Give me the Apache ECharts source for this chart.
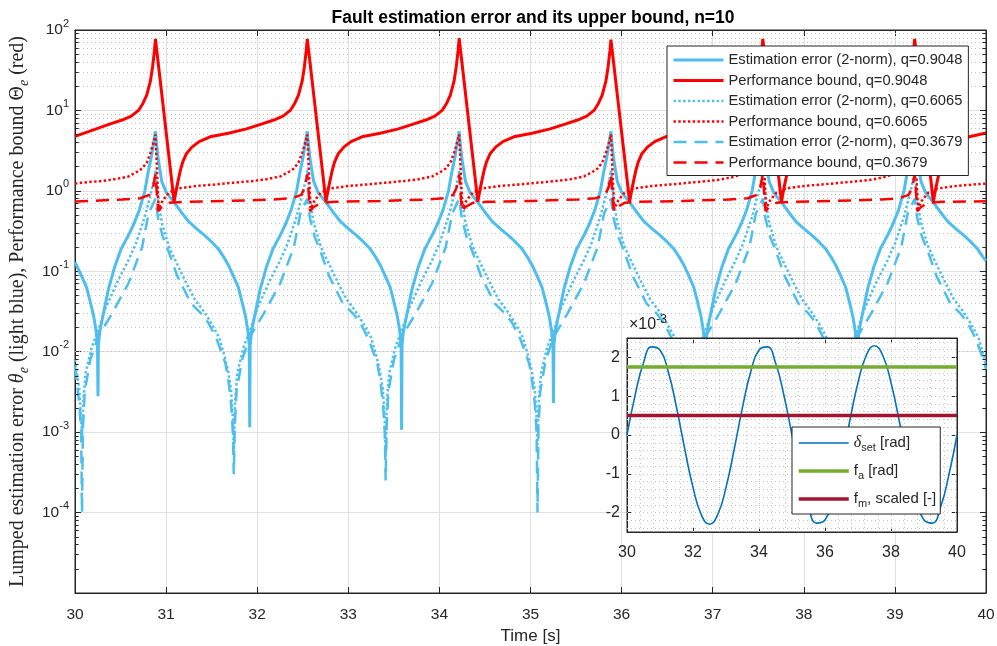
<!DOCTYPE html>
<html>
<head>
<meta charset="utf-8">
<script src="https://cdn.jsdelivr.net/npm/echarts@6/dist/echarts.min.js"></script>
<style>
  html, body { margin: 0; padding: 0; background: #fff; }
  #chart { width: 997px; height: 646px; }
</style>
</head>
<body>
<div id="chart"></div>
<script>
// ---- Main plot: time [s] vs. lumped estimation error / performance bound ----

// Performance bound, q=0.9048 (solid red)
const boundQ09 = [
  [30, 4.75], [30.217, 5.8], [30.387, 6.8], [30.517, 7.6], [30.617, 8.5], [30.697, 10], [30.747, 12.3], [30.787, 15.5], [30.827, 22.9], [30.852, 35], [30.872, 55],
  [30.883, 77.6], [31.088, 0.733], [31.098, 0.85], [31.113, 1.05], [31.133, 1.35], [31.158, 1.82], [31.183, 2.3], [31.223, 2.9], [31.283, 3.5], [31.363, 4.1], [31.483, 4.7], [31.683, 5.2], [31.883, 5.9], [32.053, 6.8], [32.183, 7.6], [32.283, 8.5], [32.363, 10], [32.413, 12.3], [32.453, 15.5], [32.493, 22.9], [32.518, 35], [32.538, 55],
  [32.55, 77.6], [32.755, 0.733], [32.765, 0.85], [32.78, 1.05], [32.8, 1.35], [32.825, 1.82], [32.85, 2.3], [32.89, 2.9], [32.95, 3.5], [33.03, 4.1], [33.15, 4.7], [33.35, 5.2], [33.55, 5.9], [33.72, 6.8], [33.85, 7.6], [33.95, 8.5], [34.03, 10], [34.08, 12.3], [34.12, 15.5], [34.16, 22.9], [34.185, 35], [34.205, 55],
  [34.217, 79], [34.422, 0.733], [34.432, 0.85], [34.447, 1.05], [34.467, 1.35], [34.492, 1.82], [34.517, 2.3], [34.557, 2.9], [34.617, 3.5], [34.697, 4.1], [34.817, 4.7], [35.017, 5.2], [35.217, 5.9], [35.387, 6.8], [35.517, 7.6], [35.617, 8.5], [35.697, 10], [35.747, 12.3], [35.787, 15.5], [35.827, 22.9], [35.852, 35], [35.872, 55],
  [35.883, 76], [36.088, 0.733], [36.098, 0.85], [36.113, 1.05], [36.133, 1.35], [36.158, 1.82], [36.183, 2.3], [36.223, 2.9], [36.283, 3.5], [36.363, 4.1], [36.483, 4.7], [36.683, 5.2], [36.883, 5.9], [37.053, 6.8], [37.183, 7.6], [37.283, 8.5], [37.363, 10], [37.413, 12.3], [37.453, 15.5], [37.493, 22.9], [37.518, 35], [37.538, 55],
  [37.55, 77.6], [37.755, 0.733], [37.765, 0.85], [37.78, 1.05], [37.8, 1.35], [37.825, 1.82], [37.85, 2.3], [37.89, 2.9], [37.95, 3.5], [38.03, 4.1], [38.15, 4.7], [38.35, 5.2], [38.55, 5.9], [38.72, 6.8], [38.85, 7.6], [38.95, 8.5], [39.03, 10], [39.08, 12.3], [39.12, 15.5], [39.16, 22.9], [39.185, 35], [39.205, 55],
  [39.217, 77.6], [39.422, 0.733], [39.432, 0.85], [39.447, 1.05], [39.467, 1.35], [39.492, 1.82], [39.517, 2.3], [39.557, 2.9], [39.617, 3.5], [39.697, 4.1], [39.817, 4.7], [40, 5.25]
];

// Estimation error (2-norm), q=0.9048 (solid light blue)
const errorQ09 = [
  [30, 0.13], [30.077, 0.085], [30.127, 0.063], [30.167, 0.042], [30.207, 0.027], [30.232, 0.018], [30.247, 0.012], [30.252, 0.0028], [30.257, 0.012], [30.272, 0.018], [30.307, 0.028], [30.367, 0.06], [30.437, 0.115], [30.507, 0.19], [30.587, 0.28], [30.647, 0.39], [30.707, 0.58], [30.767, 1.0], [30.807, 1.8], [30.837, 2.6], [30.862, 3.9],
  [30.883, 5.5], [30.898, 3.6], [30.913, 2.5], [30.953, 1.3], [31.003, 0.95], [31.088, 0.72], [31.163, 0.55], [31.243, 0.42], [31.333, 0.34], [31.423, 0.28], [31.503, 0.23], [31.573, 0.19], [31.633, 0.15], [31.683, 0.12], [31.743, 0.085], [31.793, 0.063], [31.833, 0.042], [31.873, 0.027], [31.898, 0.018], [31.913, 0.012], [31.918, 0.00115], [31.923, 0.012], [31.938, 0.018], [31.973, 0.028], [32.033, 0.06], [32.103, 0.115], [32.173, 0.19], [32.253, 0.28], [32.313, 0.39], [32.373, 0.58], [32.433, 1.0], [32.473, 1.8], [32.503, 2.6], [32.528, 3.9],
  [32.55, 5.5], [32.565, 3.6], [32.58, 2.5], [32.62, 1.3], [32.67, 0.95], [32.755, 0.72], [32.83, 0.55], [32.91, 0.42], [33.0, 0.34], [33.09, 0.28], [33.17, 0.23], [33.24, 0.19], [33.3, 0.15], [33.35, 0.12], [33.41, 0.085], [33.46, 0.063], [33.5, 0.042], [33.54, 0.027], [33.565, 0.018], [33.58, 0.012], [33.585, 0.00107], [33.59, 0.012], [33.605, 0.018], [33.64, 0.028], [33.7, 0.06], [33.77, 0.115], [33.84, 0.19], [33.92, 0.28], [33.98, 0.39], [34.04, 0.58], [34.1, 1.0], [34.14, 1.8], [34.17, 2.6], [34.195, 3.9],
  [34.217, 5.5], [34.232, 3.6], [34.247, 2.5], [34.287, 1.3], [34.337, 0.95], [34.422, 0.72], [34.497, 0.55], [34.577, 0.42], [34.667, 0.34], [34.757, 0.28], [34.837, 0.23], [34.907, 0.19], [34.967, 0.15], [35.017, 0.12], [35.077, 0.085], [35.127, 0.063], [35.167, 0.042], [35.207, 0.027], [35.232, 0.018], [35.247, 0.012], [35.252, 0.0023], [35.257, 0.012], [35.272, 0.018], [35.307, 0.028], [35.367, 0.06], [35.437, 0.115], [35.507, 0.19], [35.587, 0.28], [35.647, 0.39], [35.707, 0.58], [35.767, 1.0], [35.807, 1.8], [35.837, 2.6], [35.862, 3.9],
  [35.883, 5.5], [35.898, 3.6], [35.913, 2.5], [35.953, 1.3], [36.003, 0.95], [36.088, 0.72], [36.163, 0.55], [36.243, 0.42], [36.333, 0.34], [36.423, 0.28], [36.503, 0.23], [36.573, 0.19], [36.633, 0.15], [36.683, 0.12], [36.743, 0.085], [36.793, 0.063], [36.833, 0.042], [36.873, 0.027], [36.898, 0.018], [36.913, 0.012], [36.918, 0.002], [36.923, 0.012], [36.938, 0.018], [36.973, 0.028], [37.033, 0.06], [37.103, 0.115], [37.173, 0.19], [37.253, 0.28], [37.313, 0.39], [37.373, 0.58], [37.433, 1.0], [37.473, 1.8], [37.503, 2.6], [37.528, 3.9],
  [37.55, 5.5], [37.565, 3.6], [37.58, 2.5], [37.62, 1.3], [37.67, 0.95], [37.755, 0.72], [37.83, 0.55], [37.91, 0.42], [38.0, 0.34], [38.09, 0.28], [38.17, 0.23], [38.24, 0.19], [38.3, 0.15], [38.35, 0.12], [38.41, 0.085], [38.46, 0.063], [38.5, 0.042], [38.54, 0.027], [38.565, 0.018], [38.58, 0.012], [38.585, 0.0015], [38.59, 0.012], [38.605, 0.018], [38.64, 0.028], [38.7, 0.06], [38.77, 0.115], [38.84, 0.19], [38.92, 0.28], [38.98, 0.39], [39.04, 0.58], [39.1, 1.0], [39.14, 1.8], [39.17, 2.6], [39.195, 3.9],
  [39.217, 5.5], [39.232, 3.6], [39.247, 2.5], [39.287, 1.3], [39.337, 0.95], [39.422, 0.72], [39.497, 0.55], [39.577, 0.42], [39.667, 0.34], [39.757, 0.28], [39.837, 0.23], [39.907, 0.19], [39.967, 0.15], [40, 0.135]
];

// Estimation error (2-norm), q=0.6065 (dotted light blue)
const errorQ06 = [
  [30, 0.008], [30.047, 0.0034], [30.067, 0.0015], [30.077, 0.0009], [30.092, 0.0025], [30.117, 0.0055], [30.157, 0.0085], [30.187, 0.0117], [30.257, 0.0186], [30.327, 0.033], [30.477, 0.079], [30.577, 0.13], [30.667, 0.22], [30.767, 0.48], [30.842, 1.02], [30.867, 1.4],
  [30.883, 1.8], [30.913, 0.75], [30.953, 0.4], [31.033, 0.2], [31.133, 0.115], [31.223, 0.071], [31.313, 0.045], [31.403, 0.033], [31.493, 0.023], [31.583, 0.015], [31.643, 0.0087], [31.683, 0.0055], [31.713, 0.0034], [31.733, 0.0015], [31.743, 0.00056], [31.758, 0.0025], [31.783, 0.0055], [31.823, 0.0085], [31.853, 0.0117], [31.923, 0.0186], [31.993, 0.033], [32.143, 0.079], [32.243, 0.13], [32.333, 0.22], [32.433, 0.48], [32.508, 1.02], [32.533, 1.4],
  [32.55, 1.8], [32.58, 0.75], [32.62, 0.4], [32.7, 0.2], [32.8, 0.115], [32.89, 0.071], [32.98, 0.045], [33.07, 0.033], [33.16, 0.023], [33.25, 0.015], [33.31, 0.0087], [33.35, 0.0055], [33.38, 0.0034], [33.4, 0.0015], [33.41, 0.0005], [33.425, 0.0025], [33.45, 0.0055], [33.49, 0.0085], [33.52, 0.0117], [33.59, 0.0186], [33.66, 0.033], [33.81, 0.079], [33.91, 0.13], [34.0, 0.22], [34.1, 0.48], [34.175, 1.02], [34.2, 1.4],
  [34.217, 1.8], [34.247, 0.75], [34.287, 0.4], [34.367, 0.2], [34.467, 0.115], [34.557, 0.071], [34.647, 0.045], [34.737, 0.033], [34.827, 0.023], [34.917, 0.015], [34.977, 0.0087], [35.017, 0.0055], [35.047, 0.0034], [35.067, 0.0015], [35.077, 0.0007], [35.092, 0.0025], [35.117, 0.0055], [35.157, 0.0085], [35.187, 0.0117], [35.257, 0.0186], [35.327, 0.033], [35.477, 0.079], [35.577, 0.13], [35.667, 0.22], [35.767, 0.48], [35.842, 1.02], [35.867, 1.4],
  [35.883, 1.8], [35.913, 0.75], [35.953, 0.4], [36.033, 0.2], [36.133, 0.115], [36.223, 0.071], [36.313, 0.045], [36.403, 0.033], [36.493, 0.023], [36.583, 0.015], [36.643, 0.0087], [36.683, 0.0055], [36.713, 0.0034], [36.733, 0.0015], [36.743, 0.0006], [36.758, 0.0025], [36.783, 0.0055], [36.823, 0.0085], [36.853, 0.0117], [36.923, 0.0186], [36.993, 0.033], [37.143, 0.079], [37.243, 0.13], [37.333, 0.22], [37.433, 0.48], [37.508, 1.02], [37.533, 1.4],
  [37.55, 1.8], [37.58, 0.75], [37.62, 0.4], [37.7, 0.2], [37.8, 0.115], [37.89, 0.071], [37.98, 0.045], [38.07, 0.033], [38.16, 0.023], [38.25, 0.015], [38.31, 0.0087], [38.35, 0.0055], [38.38, 0.0034], [38.4, 0.0015], [38.41, 0.0006], [38.425, 0.0025], [38.45, 0.0055], [38.49, 0.0085], [38.52, 0.0117], [38.59, 0.0186], [38.66, 0.033], [38.81, 0.079], [38.91, 0.13], [39.0, 0.22], [39.1, 0.48], [39.175, 1.02], [39.2, 1.4],
  [39.217, 1.8], [39.247, 0.75], [39.287, 0.4], [39.367, 0.2], [39.467, 0.115], [39.557, 0.071], [39.647, 0.045], [39.737, 0.033], [39.827, 0.023], [39.917, 0.015], [39.977, 0.0087], [40, 0.0065]
];

// Performance bound, q=0.6065 (dotted red)
const boundQ06 = [
  [30, 1.23], [30.067, 1.26], [30.267, 1.32], [30.417, 1.38], [30.587, 1.51], [30.687, 1.74], [30.737, 1.9], [30.787, 2.24], [30.827, 2.95], [30.857, 3.8],
  [30.883, 5.0], [30.918, 0.6], [30.963, 0.76], [31.033, 0.95], [31.133, 1.07], [31.333, 1.15], [31.533, 1.2], [31.733, 1.26], [31.933, 1.32], [32.083, 1.38], [32.253, 1.51], [32.353, 1.74], [32.403, 1.9], [32.453, 2.24], [32.493, 2.95], [32.523, 3.8],
  [32.55, 5.0], [32.585, 0.6], [32.63, 0.76], [32.7, 0.95], [32.8, 1.07], [33.0, 1.15], [33.2, 1.2], [33.4, 1.26], [33.6, 1.32], [33.75, 1.38], [33.92, 1.51], [34.02, 1.74], [34.07, 1.9], [34.12, 2.24], [34.16, 2.95], [34.19, 3.8],
  [34.217, 5.0], [34.252, 0.6], [34.297, 0.76], [34.367, 0.95], [34.467, 1.07], [34.667, 1.15], [34.867, 1.2], [35.067, 1.26], [35.267, 1.32], [35.417, 1.38], [35.587, 1.51], [35.687, 1.74], [35.737, 1.9], [35.787, 2.24], [35.827, 2.95], [35.857, 3.8],
  [35.883, 5.0], [35.918, 0.6], [35.963, 0.76], [36.033, 0.95], [36.133, 1.07], [36.333, 1.15], [36.533, 1.2], [36.733, 1.26], [36.933, 1.32], [37.083, 1.38], [37.253, 1.51], [37.353, 1.74], [37.403, 1.9], [37.453, 2.24], [37.493, 2.95], [37.523, 3.8],
  [37.55, 5.0], [37.585, 0.6], [37.63, 0.76], [37.7, 0.95], [37.8, 1.07], [38.0, 1.15], [38.2, 1.2], [38.4, 1.26], [38.6, 1.32], [38.75, 1.38], [38.92, 1.51], [39.02, 1.74], [39.07, 1.9], [39.12, 2.24], [39.16, 2.95], [39.19, 3.8],
  [39.217, 5.0], [39.252, 0.6], [39.297, 0.76], [39.367, 0.95], [39.467, 1.07], [39.667, 1.15], [39.867, 1.2], [40, 1.23]
];

// Estimation error (2-norm), q=0.3679 (dashed light blue)
const errorQ03 = [
  [30, 0.0065], [30.017, 0.0045], [30.047, 0.0023], [30.067, 0.001], [30.077, 0.0001], [30.087, 0.0011], [30.107, 0.0032], [30.167, 0.0079], [30.257, 0.0155], [30.407, 0.03], [30.587, 0.071], [30.737, 0.2], [30.807, 0.52], [30.85, 0.66],
  [30.883, 0.8], [30.913, 0.45], [30.963, 0.27], [31.033, 0.17], [31.123, 0.087], [31.273, 0.04], [31.383, 0.03], [31.463, 0.023], [31.553, 0.0145], [31.613, 0.0095], [31.653, 0.007], [31.683, 0.0045], [31.713, 0.0023], [31.733, 0.001], [31.743, 0.0003], [31.753, 0.0011], [31.773, 0.0032], [31.833, 0.0079], [31.923, 0.0155], [32.073, 0.03], [32.253, 0.071], [32.403, 0.2], [32.473, 0.52], [32.517, 0.66],
  [32.55, 0.8], [32.58, 0.45], [32.63, 0.27], [32.7, 0.17], [32.79, 0.087], [32.94, 0.04], [33.05, 0.03], [33.13, 0.023], [33.22, 0.0145], [33.28, 0.0095], [33.32, 0.007], [33.35, 0.0045], [33.38, 0.0023], [33.4, 0.001], [33.41, 0.00025], [33.42, 0.0011], [33.44, 0.0032], [33.5, 0.0079], [33.59, 0.0155], [33.74, 0.03], [33.92, 0.071], [34.07, 0.2], [34.14, 0.52], [34.183, 0.66],
  [34.217, 0.8], [34.247, 0.45], [34.297, 0.27], [34.367, 0.17], [34.457, 0.087], [34.607, 0.04], [34.717, 0.03], [34.797, 0.023], [34.887, 0.0145], [34.947, 0.0095], [34.987, 0.007], [35.017, 0.0045], [35.047, 0.0023], [35.067, 0.001], [35.077, 0.0001], [35.087, 0.0011], [35.107, 0.0032], [35.167, 0.0079], [35.257, 0.0155], [35.407, 0.03], [35.587, 0.071], [35.737, 0.2], [35.807, 0.52], [35.85, 0.66],
  [35.883, 0.8], [35.913, 0.45], [35.963, 0.27], [36.033, 0.17], [36.123, 0.087], [36.273, 0.04], [36.383, 0.03], [36.463, 0.023], [36.553, 0.0145], [36.613, 0.0095], [36.653, 0.007], [36.683, 0.0045], [36.713, 0.0023], [36.733, 0.001], [36.743, 0.0002], [36.753, 0.0011], [36.773, 0.0032], [36.833, 0.0079], [36.923, 0.0155], [37.073, 0.03], [37.253, 0.071], [37.403, 0.2], [37.473, 0.52], [37.517, 0.66],
  [37.55, 0.8], [37.58, 0.45], [37.63, 0.27], [37.7, 0.17], [37.79, 0.087], [37.94, 0.04], [38.05, 0.03], [38.13, 0.023], [38.22, 0.0145], [38.28, 0.0095], [38.32, 0.007], [38.35, 0.0045], [38.38, 0.0023], [38.4, 0.001], [38.41, 0.0002], [38.42, 0.0011], [38.44, 0.0032], [38.5, 0.0079], [38.59, 0.0155], [38.74, 0.03], [38.92, 0.071], [39.07, 0.2], [39.14, 0.52], [39.183, 0.66],
  [39.217, 0.8], [39.247, 0.45], [39.297, 0.27], [39.367, 0.17], [39.457, 0.087], [39.607, 0.04], [39.717, 0.03], [39.797, 0.023], [39.887, 0.0145], [39.947, 0.0095], [39.987, 0.007], [40, 0.006]
];

// Performance bound, q=0.3679 (dashed red)
const boundQ03 = [
  [30, 0.735], [30.517, 0.78], [30.717, 0.81], [30.817, 0.89], [30.857, 1.1],
  [30.883, 1.6], [30.913, 0.56], [30.953, 0.63], [31.033, 0.71], [31.183, 0.73], [31.683, 0.75], [32.183, 0.78], [32.383, 0.81], [32.483, 0.89], [32.523, 1.1],
  [32.55, 1.6], [32.58, 0.56], [32.62, 0.63], [32.7, 0.71], [32.85, 0.73], [33.35, 0.75], [33.85, 0.78], [34.05, 0.81], [34.15, 0.89], [34.19, 1.1],
  [34.217, 1.6], [34.247, 0.56], [34.287, 0.63], [34.367, 0.71], [34.517, 0.73], [35.017, 0.75], [35.517, 0.78], [35.717, 0.81], [35.817, 0.89], [35.857, 1.1],
  [35.883, 1.6], [35.913, 0.56], [35.953, 0.63], [36.033, 0.71], [36.183, 0.73], [36.683, 0.75], [37.183, 0.78], [37.383, 0.81], [37.483, 0.89], [37.523, 1.1],
  [37.55, 1.6], [37.58, 0.56], [37.62, 0.63], [37.7, 0.71], [37.85, 0.73], [38.35, 0.75], [38.85, 0.78], [39.05, 0.81], [39.15, 0.89], [39.19, 1.1],
  [39.217, 1.6], [39.247, 0.56], [39.287, 0.63], [39.367, 0.71], [39.517, 0.73], [40, 0.74]
];

const seriesNames = [
  'Estimation error (2-norm), q=0.9048',
  'Performance bound, q=0.9048',
  'Estimation error (2-norm), q=0.6065',
  'Performance bound, q=0.6065',
  'Estimation error (2-norm), q=0.3679',
  'Performance bound, q=0.3679'
];

// ---- Inset: set-point excitation and fault signals (values in units of 1e-3) ----
const insetTime = [30, 30.25, 30.5, 30.75, 31, 31.25, 31.5, 31.75, 32, 32.25, 32.5, 32.75, 33, 33.25, 33.5, 33.75, 34, 34.25, 34.5, 34.75,
  35, 35.25, 35.5, 35.75, 36, 36.25, 36.5, 36.75, 37, 37.25, 37.5, 37.75, 38, 38.25, 38.5, 38.75, 39, 39.25, 39.5, 39.75, 40];
const deltaSet = [0, 1.04, 1.86, 2.27, 2.19, 1.63, 0.71, -0.36, -1.35, -2.05, -2.3, -2.05, -1.35, -0.36, 0.71, 1.63, 2.19, 2.27, 1.86, 1.04,
  0, -1.04, -1.86, -2.27, -2.19, -1.63, -0.71, 0.36, 1.35, 2.05, 2.3, 2.05, 1.35, 0.36, -0.71, -1.63, -2.19, -2.27, -1.86, -1.04, 0];
const faLevel = [[30, 1.75], [40, 1.75]];
const fmLevel = [[30, 0.5], [40, 0.5]];
const insetNames = ['delta_set [rad]', 'f_a [rad]', 'f_m, scaled [-]'];
const insetLegendText = {
  'delta_set [rad]': '{it|δ}{sub|set} [rad]',
  'f_a [rad]': 'f{sub|a} [rad]',
  'f_m, scaled [-]': 'f{sub|m}, scaled [-]'
};

// ---- Styling ----
const INK = '#262626';
const LIGHT_BLUE = '#4DBEEE';
const RED = '#FF0000';
const SANS = 'Liberation Sans, Arial, Helvetica, sans-serif';
const SERIF = 'Liberation Serif, DejaVu Serif, serif';
const DOTTED = [2.4, 2.4];
const DASHED = [13, 8];

// gridline / minor tick positions of the log axis (2..9 x 10^k)
const minorLogValues = [];
for (let e = -5; e <= 1; e++) {
  for (let m = 2; m <= 9; m++) minorLogValues.push(m * Math.pow(10, e));
}
// inset dotted grid positions
const insetGridX = [];
for (let i = 1; i < 25; i++) insetGridX.push(30 + i * 0.4);
const insetGridY = [];
for (let i = -12; i <= 12; i++) insetGridY.push(i * 0.2);

function mainLine(name, data, color, dash, width) {
  return {
    name, type: 'line', data, xAxisIndex: 0, yAxisIndex: 0,
    symbol: 'none', smooth: false, silent: true,
    lineStyle: { color, width, type: dash, cap: 'butt' },
    itemStyle: { color },
    z: 2
  };
}

const chart = echarts.init(document.getElementById('chart'), null, { renderer: 'canvas' });

const option = {
  animation: false,
  backgroundColor: '#fff',
  textStyle: { fontFamily: SANS, color: INK },
  title: {
    text: 'Fault estimation error and its upper bound, n=10',
    left: 528, top: 4, textAlign: 'center',
    textStyle: { fontFamily: SANS, fontWeight: 'bold', fontSize: 17.5, color: '#000' }
  },
  grid: [
    { left: 75, right: 11, top: 30, bottom: 53, outerBoundsMode: 'none', containLabel: false,
      show: true, borderColor: INK, borderWidth: 1, backgroundColor: 'transparent' },
    { left: 627, top: 338, width: 330, height: 194, outerBoundsMode: 'none', containLabel: false,
      show: true, backgroundColor: '#fff', borderColor: INK, borderWidth: 1, zlevel: 1 }
  ],
  legend: [
    {
      data: seriesNames,
      orient: 'vertical', left: 667, top: 46,
      itemWidth: 50, itemHeight: 12, itemGap: 4.5,
      padding: [6, 6, 5, 5],
      backgroundColor: '#fff', borderColor: INK, borderWidth: 1, borderRadius: 0,
      itemStyle: { opacity: 0 },
      lineStyle: { width: 'inherit' },
      textStyle: { fontFamily: SANS, fontSize: 14.7, color: INK, lineHeight: 16 },
      selectedMode: false, z: 10
    },
    {
      data: insetNames,
      orient: 'vertical', left: 792, top: 427,
      itemWidth: 50, itemHeight: 14, itemGap: 8,
      padding: [6, 4, 5, 5],
      backgroundColor: '#fff', borderColor: INK, borderWidth: 1, borderRadius: 0,
      itemStyle: { opacity: 0 },
      lineStyle: { width: 'inherit' },
      formatter: (n) => insetLegendText[n],
      textStyle: {
        fontFamily: SANS, fontSize: 15, color: INK, lineHeight: 20,
        rich: {
          it: { fontFamily: SERIF, fontStyle: 'italic', fontSize: 16, color: INK, lineHeight: 20 },
          sub: { fontFamily: SANS, fontSize: 11, color: INK, lineHeight: 11, verticalAlign: 'bottom' }
        }
      },
      selectedMode: false, zlevel: 1, z: 10
    }
  ],
  xAxis: [
    {
      type: 'value', gridIndex: 0, min: 30, max: 40, interval: 1,
      name: 'Time [s]', nameLocation: 'middle', nameGap: 31,
      nameTextStyle: { fontFamily: SANS, fontSize: 17, color: INK },
      axisLine: { onZero: false, lineStyle: { color: INK, width: 1 } },
      axisTick: { inside: true, length: 6, lineStyle: { color: INK } },
      axisLabel: { fontFamily: SANS, fontSize: 15.5, color: INK, margin: 14 },
      splitLine: { show: true, lineStyle: { color: '#e0e0e0', width: 1 } }
    },
    {
      type: 'value', gridIndex: 0, position: 'top', min: 30, max: 40, interval: 1,
      axisLine: { onZero: false, lineStyle: { color: INK, width: 1 } },
      axisTick: { inside: true, length: 6, lineStyle: { color: INK } },
      axisLabel: { show: false }, splitLine: { show: false }
    },
    {
      type: 'value', gridIndex: 1, min: 30, max: 40, interval: 2, zlevel: 1,
      axisLine: { onZero: false, lineStyle: { color: INK, width: 1 } },
      axisTick: { inside: true, length: 5, lineStyle: { color: INK } },
      axisLabel: { fontFamily: SANS, fontSize: 16, color: INK, margin: 13 },
      splitLine: { show: false }
    },
    {
      type: 'value', gridIndex: 1, position: 'top', min: 30, max: 40, interval: 2, zlevel: 1,
      axisLine: { onZero: false, lineStyle: { color: INK, width: 1 } },
      axisTick: { inside: true, length: 5, lineStyle: { color: INK } },
      axisLabel: { show: false }, splitLine: { show: false }
    }
  ],
  yAxis: [
    {
      type: 'log', logBase: 10, gridIndex: 0, min: 1e-5, max: 100, splitNumber: 7,
      name: 'Lumped estimation error {th|θ}{sb|e} (light blue), Performance bound Θ{sb|e} (red)',
      nameLocation: 'middle', nameRotate: 90, nameGap: 42,
      nameTextStyle: {
        fontFamily: SERIF, fontSize: 20, color: INK, lineHeight: 26,
        rich: {
          th: { fontFamily: SERIF, fontStyle: 'italic', fontSize: 20, color: INK, lineHeight: 26 },
          sb: { fontFamily: SERIF, fontStyle: 'italic', fontSize: 14, color: INK, lineHeight: 14, verticalAlign: 'bottom' }
        }
      },
      axisLine: { onZero: false, lineStyle: { color: INK, width: 1 } },
      axisTick: { inside: true, length: 6, lineStyle: { color: INK } },
      axisLabel: {
        margin: 6, color: INK,
        formatter: (v) => {
          const e = Math.round(Math.log10(v));
          if (e <= -5) return '';
          return '{b|10}{s|' + e + '}';
        },
        rich: {
          b: { fontFamily: SANS, fontSize: 15.5, color: INK, lineHeight: 24 },
          s: { fontFamily: SANS, fontSize: 11, color: INK, lineHeight: 11, verticalAlign: 'top' }
        }
      },
      splitLine: { show: true, lineStyle: { color: '#e0e0e0', width: 1 } }
    },
    {
      type: 'log', logBase: 10, gridIndex: 0, position: 'right', min: 1e-5, max: 100, splitNumber: 7,
      axisLine: { onZero: false, lineStyle: { color: INK, width: 1 } },
      axisTick: { inside: true, length: 6, lineStyle: { color: INK } },
      axisLabel: { show: false }, splitLine: { show: false }
    },
    {
      type: 'value', gridIndex: 1, min: -2.5, max: 2.5, zlevel: 1,
      axisLine: { onZero: false, lineStyle: { color: INK, width: 1 } },
      axisTick: { inside: true, length: 5, lineStyle: { color: INK }, customValues: [-2, -1, 0, 1, 2] },
      axisLabel: { fontFamily: SANS, fontSize: 16, color: INK, margin: 7, customValues: [-2, -1, 0, 1, 2] },
      splitLine: { show: false }
    },
    {
      type: 'value', gridIndex: 1, position: 'right', min: -2.5, max: 2.5, zlevel: 1,
      axisLine: { onZero: false, lineStyle: { color: INK, width: 1 } },
      axisTick: { inside: true, length: 5, lineStyle: { color: INK }, customValues: [-2, -1, 0, 1, 2] },
      axisLabel: { show: false }, splitLine: { show: false }
    }
  ],
  graphic: [
    {
      type: 'text', left: 629, top: 314, zlevel: 1, z: 10, silent: true,
      style: {
        text: '{m|×10}{e|-3}',
        rich: {
          m: { fontFamily: SANS, fontSize: 16, fill: INK, lineHeight: 22 },
          e: { fontFamily: SANS, fontSize: 12, fill: INK, lineHeight: 12, verticalAlign: 'top' }
        }
      }
    }
  ],
  series: [
    // dotted minor grid and minor ticks of the main log axis
    {
      type: 'line', xAxisIndex: 0, yAxisIndex: 0, data: [], silent: true, symbol: 'none', z: 1,
      markLine: {
        silent: true, symbol: ['none', 'none'], label: { show: false }, animation: false, z: 1,
        lineStyle: { color: '#c4c4c4', width: 1, type: [1, 3] },
        emphasis: { disabled: true },
        data: minorLogValues.map(v => ({ yAxis: v }))
      }
    },
    {
      type: 'line', xAxisIndex: 0, yAxisIndex: 0, data: [], silent: true, symbol: 'none', z: 3,
      markLine: {
        silent: true, symbol: ['none', 'none'], label: { show: false }, animation: false, z: 3,
        lineStyle: { color: INK, width: 1, type: 'solid' },
        emphasis: { disabled: true },
        data: minorLogValues.flatMap(v => [
          [{ coord: [30, v] }, { coord: [30.04, v] }],
          [{ coord: [39.96, v] }, { coord: [40, v] }]
        ])
      }
    },
    mainLine(seriesNames[0], errorQ09, LIGHT_BLUE, 'solid', 3),
    mainLine(seriesNames[1], boundQ09, RED, 'solid', 3),
    mainLine(seriesNames[2], errorQ06, LIGHT_BLUE, DOTTED, 2.5),
    mainLine(seriesNames[3], boundQ06, RED, DOTTED, 2.5),
    mainLine(seriesNames[4], errorQ03, LIGHT_BLUE, DASHED, 2.5),
    mainLine(seriesNames[5], boundQ03, RED, DASHED, 2.5),
    // inset dotted grid
    {
      type: 'line', xAxisIndex: 2, yAxisIndex: 2, data: [], silent: true, symbol: 'none', zlevel: 1, z: 1,
      markLine: {
        silent: true, symbol: ['none', 'none'], label: { show: false }, animation: false, zlevel: 1, z: 1,
        lineStyle: { color: '#c4c4c4', width: 1, type: [1, 3] },
        emphasis: { disabled: true },
        data: insetGridX.map(v => ({ xAxis: v })).concat(insetGridY.map(v => ({ yAxis: v })))
      }
    },
    {
      name: insetNames[0], type: 'line', xAxisIndex: 2, yAxisIndex: 2, zlevel: 1, z: 2,
      data: insetTime.map((t, i) => [t, deltaSet[i]]),
      symbol: 'none', smooth: true, silent: true,
      lineStyle: { color: '#0072BD', width: 1.6 }, itemStyle: { color: '#0072BD' }
    },
    {
      name: insetNames[1], type: 'line', xAxisIndex: 2, yAxisIndex: 2, zlevel: 1, z: 2,
      data: faLevel, symbol: 'none', silent: true,
      lineStyle: { color: '#77AC30', width: 3.5 }, itemStyle: { color: '#77AC30' }
    },
    {
      name: insetNames[2], type: 'line', xAxisIndex: 2, yAxisIndex: 2, zlevel: 1, z: 2,
      data: fmLevel, symbol: 'none', silent: true,
      lineStyle: { color: '#A2142F', width: 3.5 }, itemStyle: { color: '#A2142F' }
    }
  ]
};

chart.setOption(option);
</script>
</body>
</html>
